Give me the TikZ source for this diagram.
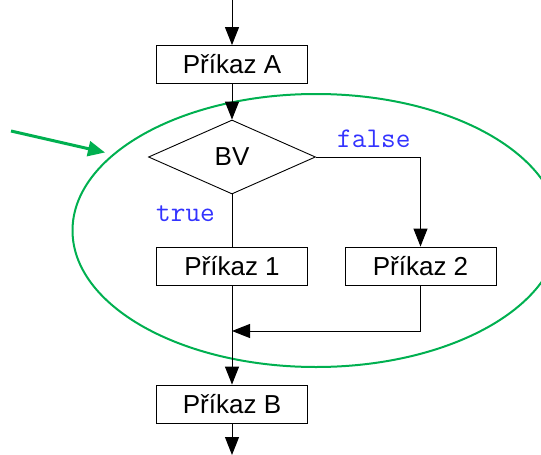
\documentclass[tikz,border=0pt]{standalone}
\usepackage{fontspec}
\setmainfont{Liberation Sans}
\usetikzlibrary{shapes.geometric,arrows.meta}
\definecolor{loopgreen}{RGB}{0,176,80}
\definecolor{labelblue}{RGB}{51,51,255}
\begin{document}
\begin{tikzpicture}[x=1pt,y=-1pt,
  stepbox/.style={draw, line width=0.9pt, rectangle, minimum width=151pt,
    minimum height=38pt, inner sep=0pt, font=\fontsize{26}{30}\selectfont},
  decision/.style={draw, line width=0.9pt, diamond, minimum width=167pt,
    minimum height=74pt, inner sep=0pt, font=\fontsize{26}{30}\selectfont},
  flow/.style={line width=1pt, -{Triangle[length=18pt,width=14pt]}},
  plain/.style={line width=1pt},
  branch/.style={font=\ttfamily\fontsize{28.5}{32}\selectfont, text=labelblue,
    inner sep=0pt, anchor=base west},
  pointer/.style={draw=loopgreen, line width=3pt,
    -{Triangle[length=17pt,width=15pt]}}
]
\useasboundingbox (0,0) rectangle (541,455);

% loop region highlighted by an ellipse
\node[draw=loopgreen, line width=2pt, ellipse, minimum width=487pt,
  minimum height=273pt, inner sep=0pt] (region) at (316,230.5) {};

% flowchart nodes
\coordinate (top) at (232,0);
\node[stepbox] (boxA) at (232,64.5) {Příkaz A};
\node[decision] (bv) at (232,157) {BV};
\node[stepbox] (box1) at (232,266) {Příkaz 1};
\node[stepbox] (box2) at (420.5,266) {Příkaz 2};
\coordinate (join) at (232,331);
\node[stepbox] (boxB) at (232,404) {Příkaz B};
\coordinate (bottom) at (232,455);

% branch labels
\node[branch] (falselbl) at (337,147) {false};
\node[branch] (truelbl) at (156,221) {true};

% connectors
\draw[flow] (top) -- (boxA.north);
\draw[flow] (boxA.south) -- (bv.north);
\draw[plain] (bv.south) -- (box1.north);
\draw[flow] (bv.east) -| (box2.north);
\draw[flow] (box2.south) |- (join);
\draw[flow] (box1.south) -- (boxB.north);
\draw[flow] (boxB.south) -- (bottom);

% pointer to the highlighted region
\coordinate (pstart) at (11,131);
\coordinate (ptip) at (105,152.5);
\draw[pointer] (pstart) -- (ptip);
\end{tikzpicture}
\end{document}
